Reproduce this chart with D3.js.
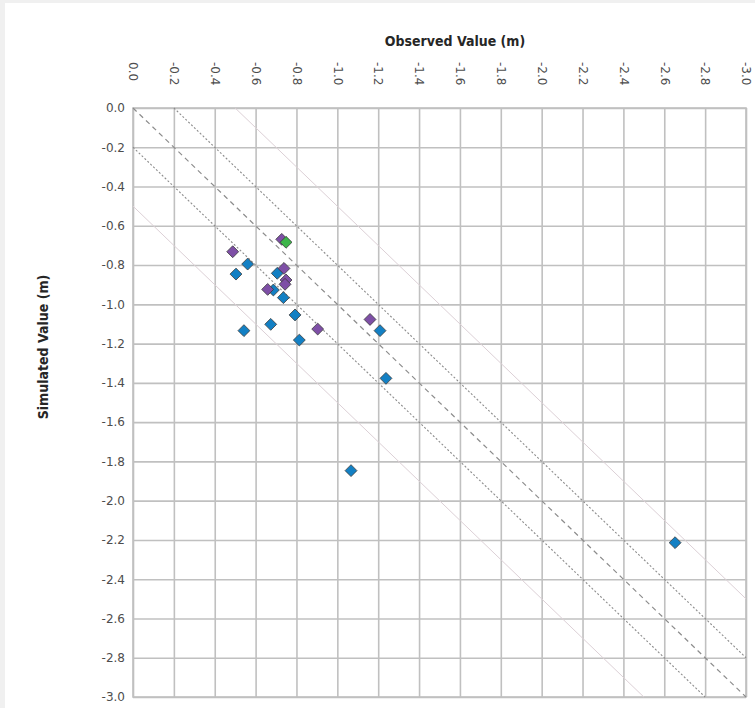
<!DOCTYPE html>
<html>
<head>
<meta charset="utf-8">
<script src="https://cdn.jsdelivr.net/npm/d3@7"></script>
<style>
  body { margin: 0; background: #f0f0f0; }
  svg { display: block; }
</style>
</head>
<body>
<div id="chart"></div>
<script>
// tick values shared by both axes
const tickValues = [0, -0.2, -0.4, -0.6, -0.8, -1.0, -1.2, -1.4, -1.6, -1.8, -2.0, -2.2, -2.4, -2.6, -2.8, -3.0];

// observed / simulated pairs, one set per series
const blueObs = [-0.561, -0.504, -0.706, -0.687, -0.736, -0.793, -0.674, -0.543, -0.814, -1.209, -1.238, -1.067, -2.653];
const blueSim = [-0.795, -0.846, -0.842, -0.927, -0.966, -1.054, -1.102, -1.134, -1.182, -1.134, -1.377, -1.847, -2.214];
const purpleObs = [-0.488, -0.728, -0.739, -0.749, -0.744, -0.659, -0.904, -1.160];
const purpleSim = [-0.732, -0.669, -0.817, -0.876, -0.898, -0.924, -1.126, -1.077];
const greenObs = [-0.749];
const greenSim = [-0.684];

// reference lines: offset from the 1:1 line
const lineOffsets = [0, 0.2, -0.2, 0.5, -0.5];

const width = 755;
const height = 708;
const margin = { top: 108, right: 9, bottom: 11, left: 133 };

const svg = d3
  .select("#chart")
  .append("svg")
  .attr("width", width)
  .attr("height", height);

// white panel over the grey page
svg
  .append("rect")
  .attr("x", 5)
  .attr("y", 3)
  .attr("width", width - 5)
  .attr("height", height - 3)
  .attr("fill", "white");

const xScale = d3
  .scaleLinear()
  .domain([0, -3])
  .range([margin.left, width - margin.right]);

const yScale = d3
  .scaleLinear()
  .domain([0, -3])
  .range([margin.top, height - margin.bottom]);

const fmt = (d) => d.toFixed(1);

// vertical grid + top labels
const xAxis = svg
  .append("g")
  .attr("transform", `translate(0, ${margin.top})`)
  .call(
    d3.axisTop(xScale)
      .tickValues(tickValues)
      .tickFormat(fmt)
      .tickSize(-(height - margin.top - margin.bottom))
      .tickSizeOuter(0)
  );

xAxis.select(".domain").remove();
xAxis.selectAll("line").attr("stroke", "#c0c0c0").attr("stroke-width", 1.6);
xAxis
  .selectAll("text")
  .attr("x", 0)
  .attr("y", 0)
  .attr("dy", "0.35em")
  .attr("text-anchor", "start")
  .attr("transform", `translate(0, ${62 - margin.top}) rotate(90)`)
  .attr("fill", "#4d4d4d")
  .style("font-family", "DejaVu Sans, Verdana, sans-serif")
  .style("font-size", "12px");

// horizontal grid + left labels
const yAxis = svg
  .append("g")
  .attr("transform", `translate(${margin.left}, 0)`)
  .call(
    d3.axisLeft(yScale)
      .tickValues(tickValues)
      .tickFormat(fmt)
      .tickSize(-(width - margin.left - margin.right))
      .tickSizeOuter(0)
      .tickPadding(8)
  );

yAxis.select(".domain").remove();
yAxis.selectAll("line").attr("stroke", "#c0c0c0").attr("stroke-width", 1.6);
yAxis
  .selectAll("text")
  .attr("fill", "#4d4d4d")
  .style("font-family", "DejaVu Sans, Verdana, sans-serif")
  .style("font-size", "12px");

// plot border
svg
  .append("rect")
  .attr("x", xScale(0))
  .attr("y", yScale(0))
  .attr("width", xScale(-3) - xScale(0))
  .attr("height", yScale(-3) - yScale(0))
  .attr("fill", "none")
  .attr("stroke", "#c0c0c0")
  .attr("stroke-width", 1.6);

// 1:1 line and the +-0.2 / +-0.5 bands, clipped to the plot
function linePoints(off) {
  // sim = obs + off, kept inside [-3, 0] on both axes
  const x0 = Math.min(0, -off);
  const x1 = Math.max(-3, -3 - off);
  return [[x0, x0 + off], [x1, x1 + off]];
}

lineOffsets.forEach((off) => {
  const pts = linePoints(off);
  const l = svg
    .append("line")
    .attr("x1", xScale(pts[0][0]))
    .attr("y1", yScale(pts[0][1]))
    .attr("x2", xScale(pts[1][0]))
    .attr("y2", yScale(pts[1][1]))
    .attr("fill", "none");
  if (off === 0) {
    l.attr("stroke", "#8c8c8c").attr("stroke-width", 1.2).attr("stroke-dasharray", "5,4");
  } else if (Math.abs(off) === 0.2) {
    l.attr("stroke", "#8c8c8c").attr("stroke-width", 1.1).attr("stroke-dasharray", "2,2");
  } else {
    l.attr("stroke", "#dcd0d6").attr("stroke-width", 1);
  }
});

// diamonds
const diamond = d3.symbol().type(d3.symbolDiamond2).size(90);

function drawSeries(obs, sim, color) {
  const data = obs.map((o, i) => ({ obs: o, sim: sim[i] }));
  svg
    .append("g")
    .selectAll("path")
    .data(data)
    .enter()
    .append("path")
    .attr("d", diamond)
    .attr("transform", (d) => `translate(${xScale(d.obs)}, ${yScale(d.sim)})`)
    .attr("fill", color)
    .attr("stroke", "#3a3a3a")
    .attr("stroke-width", 0.8);
}

drawSeries(blueObs, blueSim, "#1380c4");
drawSeries(purpleObs, purpleSim, "#7e4fa6");
drawSeries(greenObs, greenSim, "#3db54a");

// axis titles
svg
  .append("text")
  .attr("x", 455)
  .attr("y", 46)
  .attr("text-anchor", "middle")
  .style("font-family", "Liberation Sans Narrow, DejaVu Sans Condensed, sans-serif")
  .style("font-weight", "bold")
  .style("font-size", "14px")
  .attr("fill", "#262626")
  .text("Observed Value (m)");

svg
  .append("text")
  .attr("transform", "translate(48, 347) rotate(-90)")
  .attr("text-anchor", "middle")
  .style("font-family", "Liberation Sans Narrow, DejaVu Sans Condensed, sans-serif")
  .style("font-weight", "bold")
  .style("font-size", "14px")
  .attr("fill", "#262626")
  .text("Simulated Value (m)");
</script>
</body>
</html>
